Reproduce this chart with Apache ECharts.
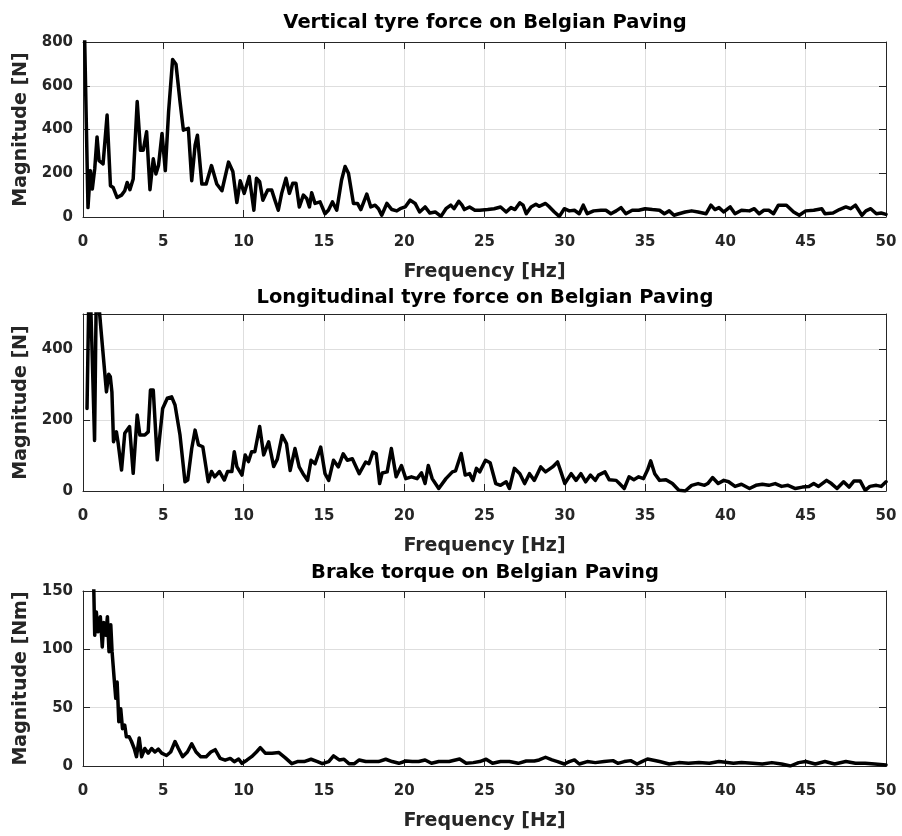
<!DOCTYPE html>
<html>
<head>
<meta charset="utf-8">
<script src="https://cdn.jsdelivr.net/npm/echarts@6/dist/echarts.min.js"></script>
<style>html,body{margin:0;padding:0;background:#fff}#c{width:902px;height:836px}</style>
</head>
<body>
<div id="c"></div>
<script>
// ---- Data ----
const titles = ['Vertical tyre force on Belgian Paving', 'Longitudinal tyre force on Belgian Paving', 'Brake torque on Belgian Paving'];
const yNames = ['Magnitude [N]', 'Magnitude [N]', 'Magnitude [Nm]'];
const xName = 'Frequency [Hz]';
const xTicks = [0, 50, 5];           // min, max, interval
const yLimits = [[0, 800, 200], [0, 500, 200], [0, 150, 50]];

const vertFreq = [0,0.31,0.46,0.58,0.73,0.875,1.0,1.25,1.5,1.71,1.875,2.125,2.4,2.6,2.75,2.92,3.125,3.375,3.58,3.75,3.96,4.17,4.375,4.54,4.7,4.92,5.125,5.33,5.58,5.79,6.04,6.25,6.56,6.77,6.98,7.125,7.4,7.67,8.0,8.33,8.65,9.06,9.33,9.58,9.79,10.04,10.35,10.64,10.8,11.0,11.2,11.5,11.75,11.95,12.16,12.37,12.64,12.85,13.06,13.26,13.47,13.72,13.93,14.1,14.24,14.45,14.76,15.07,15.28,15.53,15.8,16.1,16.32,16.53,16.84,17.09,17.3,17.67,17.92,18.19,18.4,18.6,18.92,19.23,19.54,19.75,20.06,20.37,20.68,20.96,21.3,21.6,21.93,22.29,22.6,22.9,23.1,23.4,23.6,23.75,24.07,24.4,24.7,25.2,25.6,26.0,26.35,26.65,26.9,27.2,27.4,27.6,27.9,28.2,28.4,28.8,29.0,29.35,29.66,29.97,30.28,30.6,30.9,31.15,31.4,31.8,32.25,32.56,32.87,33.2,33.5,33.8,34.2,34.6,35.0,35.45,35.9,36.2,36.5,36.8,37.1,37.5,37.9,38.3,38.8,39.1,39.35,39.6,39.9,40.3,40.6,41.0,41.5,41.8,42.1,42.4,42.7,43.0,43.3,43.8,44.25,44.6,45.0,45.5,46.0,46.2,46.7,47.1,47.5,47.8,48.1,48.5,48.75,49.05,49.4,49.7,50];
const vertMag = [1200,43,212,128,220,366,258,243,466,143,135,89,100,120,158,125,174,528,305,305,390,125,266,197,235,382,212,482,720,698,528,397,405,166,328,374,151,151,235,151,120,251,208,66,166,108,185,31,177,161,77,123,123,77,31,108,177,108,154,154,46,100,85,46,111,62,69,15,31,69,31,169,231,200,62,62,34,105,46,54,38,8,62,34,28,38,46,77,62,23,46,18,23,3,38,54,38,72,54,34,46,31,31,34,38,46,23,43,34,65,54,15,46,58,49,62,49,23,3,38,28,31,15,54,15,28,31,31,15,28,43,15,31,31,38,34,31,15,28,8,15,23,28,23,15,54,34,43,23,46,15,31,28,38,15,31,31,15,54,54,23,8,28,31,38,15,18,34,46,38,54,8,28,38,15,18,12];

const longFreq = [0.25,0.4,0.55,0.72,0.85,1.0,1.15,1.46,1.6,1.7,1.8,1.9,2.08,2.19,2.4,2.6,2.9,3.125,3.375,3.54,3.85,4.06,4.2,4.375,4.625,4.96,5.25,5.52,5.73,6.04,6.35,6.52,6.77,6.98,7.19,7.46,7.8,8.0,8.2,8.5,8.8,9.0,9.27,9.42,9.58,9.9,10.1,10.3,10.5,10.7,11.0,11.25,11.56,11.875,12.1,12.4,12.67,12.9,13.2,13.46,13.7,13.98,14.2,14.45,14.8,15.07,15.3,15.6,15.9,16.2,16.46,16.77,17.2,17.6,17.8,18.05,18.26,18.47,18.63,18.94,19.2,19.5,19.83,20.1,20.45,20.8,21.08,21.3,21.5,21.74,22.15,22.6,23.0,23.2,23.55,23.8,24.07,24.28,24.5,24.7,25.06,25.35,25.7,26.0,26.35,26.55,26.86,27.2,27.5,27.8,28.1,28.5,28.8,29.24,29.55,29.76,30.0,30.4,30.7,31.0,31.3,31.6,31.9,32.1,32.5,32.76,33.2,33.4,33.7,34.0,34.3,34.6,34.9,35.15,35.35,35.6,35.9,36.3,36.7,37.1,37.5,37.9,38.3,38.7,38.9,39.2,39.55,39.9,40.2,40.6,41.0,41.5,41.9,42.3,42.7,43.1,43.5,43.9,44.36,44.8,45.2,45.5,45.8,46.3,46.6,46.95,47.36,47.7,48.0,48.4,48.7,49.0,49.4,49.7,50];
const longMag = [233,650,420,143,650,520,440,280,330,323,280,139,167,135,59,163,182,50,215,158,158,167,285,285,88,233,262,266,243,158,26,31,120,172,130,125,26,55,40,55,31,55,55,111,69,45,102,83,111,111,182,102,139,69,90,157,134,58,120,68,49,30,87,77,124,49,30,87,68,105,87,91,49,82,77,110,105,21,51,54,120,40,72,35,40,35,51,21,72,35,7,35,54,57,106,45,49,30,64,54,87,80,21,16,26,7,64,49,21,49,30,68,54,68,82,54,21,49,30,49,26,45,30,45,54,32,30,21,7,40,32,40,35,59,85,49,30,32,21,2,0,16,21,16,21,38,21,30,26,13,19,7,16,19,16,21,13,16,7,11,13,21,13,30,21,7,26,11,28,28,2,13,16,13,26];

const brakeFreq = [0.6,0.73,0.83,0.94,1.08,1.2,1.29,1.42,1.52,1.62,1.73,1.81,1.94,2.04,2.125,2.23,2.35,2.46,2.6,2.7,2.875,3.02,3.19,3.33,3.5,3.65,3.85,4.06,4.27,4.48,4.69,4.9,5.2,5.46,5.73,5.94,6.2,6.5,6.77,7.04,7.33,7.67,7.96,8.23,8.54,8.85,9.17,9.42,9.69,9.9,10.2,10.5,10.8,11.04,11.35,11.77,12.2,12.6,13.0,13.35,13.77,14.2,14.6,14.9,15.3,15.6,15.95,16.25,16.56,16.9,17.2,17.6,18.0,18.4,18.85,19.25,19.67,20.1,20.5,20.9,21.3,21.7,22.15,22.8,23.45,23.86,24.3,24.7,25.1,25.5,26.0,26.55,27.1,27.6,28.1,28.4,28.8,29.2,29.55,29.97,30.28,30.6,30.9,31.4,31.9,32.45,33.0,33.3,33.7,34.1,34.5,34.8,35.15,35.45,35.9,36.5,37.1,37.7,38.35,39.0,39.6,40.0,40.5,41.0,41.7,42.3,42.9,43.5,44.05,44.56,45.0,45.6,46.2,46.8,47.5,48.1,48.7,49.3,50];
const brakeMag = [200,112,132,115,128,102,123,112,128,98,121,98,75,58,72,38,49,32,35,25,25,21,15,8,24,8,15,11,15,12,14.5,11,9,12,21,15,8,12,19,12,8,8,12,14,6.5,5,6.5,3.7,6,2.3,5,8,12,15.7,11,11,11.5,7,2,3.8,3.8,5.8,3.8,2,3.8,8.7,5.2,5.8,2,2,5.2,3.8,3.8,3.8,5.8,3.8,2.3,4.3,3.8,3.8,5.2,2.3,3.8,3.8,6,2.3,2.9,3.8,5.8,2.3,3.8,3.8,2.3,4.3,4.3,5.2,7.5,5.2,3.8,1.7,3.8,5.2,1.7,3.8,2.9,3.8,4.6,2.3,3.8,4.6,1.7,3.8,6,5.2,3.8,1.7,2.9,2.3,2.9,2.3,3.8,3.2,2.3,2.9,2.3,1.7,2.9,1.7,0,2.9,3.8,1.7,3.8,1.7,3.8,2.3,2.3,1.7,0.9];

// ---- Chart ----
const FONT = '"DejaVu Sans", sans-serif';
const INK = '#262626';
const gridTops = [42, 314, 591];
const gridHeights = [175, 177, 175];
const seriesSets = [[vertFreq, vertMag], [longFreq, longMag], [brakeFreq, brakeMag]];

const grids = [], xAxes = [], yAxes = [], series = [];
const tickStyle = {show: true, inside: true, length: 7, lineStyle: {color: INK, width: 1}};
const lineAx = {show: true, onZero: false, lineStyle: {color: INK, width: 1}};
const lblStyle = {fontFamily: FONT, fontWeight: 'bold', fontSize: 15, color: INK};

for (let i = 0; i < 3; i++) {
  grids.push({left: 83, width: 803, top: gridTops[i], height: gridHeights[i], containLabel: false});
  xAxes.push({
    gridIndex: i, type: 'value', position: 'bottom', min: xTicks[0], max: xTicks[1], interval: xTicks[2],
    axisLine: lineAx, axisTick: tickStyle,
    axisLabel: Object.assign({margin: 18, showMinLabel: true, showMaxLabel: true}, lblStyle),
    splitLine: {show: true, lineStyle: {color: '#dedede', width: 1}},
    name: xName, nameLocation: 'middle', nameGap: 46,
    nameTextStyle: {fontFamily: FONT, fontWeight: 'bold', fontSize: 19, color: INK}
  });
  xAxes.push({
    gridIndex: i, type: 'value', position: 'top', min: xTicks[0], max: xTicks[1], interval: xTicks[2],
    axisLine: lineAx, axisTick: tickStyle, axisLabel: {show: false}, splitLine: {show: false}
  });
  const yl = yLimits[i];
  yAxes.push({
    gridIndex: i, type: 'value', position: 'left', min: yl[0], max: yl[1], interval: yl[2],
    axisLine: lineAx, axisTick: tickStyle,
    axisLabel: Object.assign({margin: 10, showMinLabel: true, showMaxLabel: true,
      formatter: v => (v % yl[2] === 0 ? String(v) : '')}, lblStyle),
    splitLine: {show: true, lineStyle: {color: '#dedede', width: 1}},
    name: yNames[i], nameLocation: 'middle', nameGap: 48, nameRotate: 90,
    nameTextStyle: {fontFamily: FONT, fontWeight: 'bold', fontSize: 19, color: INK}
  });
  yAxes.push({
    gridIndex: i, type: 'value', position: 'right', min: yl[0], max: yl[1], interval: yl[2],
    axisLine: lineAx, axisTick: tickStyle, axisLabel: {show: false}, splitLine: {show: false}
  });
  const [fx, fy] = seriesSets[i];
  series.push({
    type: 'line', xAxisIndex: 2 * i, yAxisIndex: 2 * i, showSymbol: false, symbol: 'none',
    clip: true, silent: true,
    lineStyle: {color: '#000', width: 3.5, join: 'round', cap: 'round'},
    data: fx.map((f, k) => [f, fy[k]])
  });
}

const titleY = [23, 298, 573];
const title = titles.map((t, i) => ({
  text: t, left: 485, top: titleY[i] - 12, textAlign: 'center', padding: 0,
  textStyle: {fontFamily: FONT, fontWeight: 'bold', fontSize: 19.5, color: '#000', lineHeight: 24}
}));

const chart = echarts.init(document.getElementById('c'), null, {renderer: 'canvas'});
chart.setOption({
  animation: false, backgroundColor: '#fff',
  title, grid: grids, xAxis: xAxes, yAxis: yAxes, series
});
</script>
</body>
</html>
